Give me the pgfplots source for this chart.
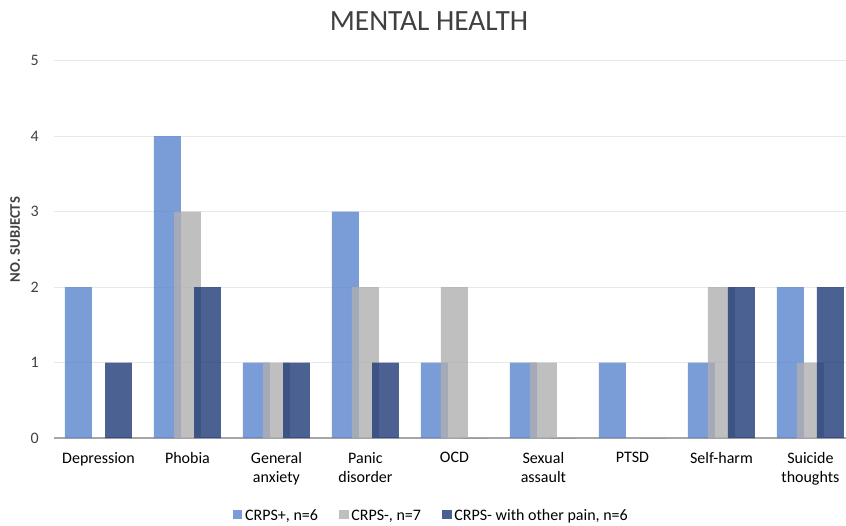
\documentclass[border=0pt]{standalone}
\usepackage{pgfplots}
\pgfplotsset{compat=1.18}
\usepackage{fontspec}
\setmainfont{Carlito}
\definecolor{cblue}{RGB}{89,133,205}
\definecolor{cgray}{RGB}{175,175,175}
\definecolor{cdark}{RGB}{29,57,117}
\definecolor{txt}{RGB}{64,64,64}
\begin{document}
\begin{tikzpicture}
\begin{axis}[
  at={(40.5pt,65.25pt)}, anchor=south west,
  scale only axis, width=594pt, height=283pt,
  xmin=-0.5, xmax=8.4, ymin=0, ymax=5,
  ytick={0,1,2,3,4,5},
  xtick={0,1,2,3,4,5,6,7,8},
  xticklabels={Depression, Phobia, {General\\anxiety}, {Panic\\disorder}, OCD, {Sexual\\assault}, PTSD, Self-harm, {Suicide\\thoughts}},
  xticklabel style={align=center, font=\fontsize{12}{14.5}\selectfont, text=black, anchor=north, yshift=-7pt},
  yticklabel style={font=\fontsize{12}{14}\selectfont, text=txt, xshift=-8pt},
  /pgf/number format/assume math mode=true,
  major tick length=0pt,
  axis x line*=bottom, axis y line*=left,
  x axis line style={draw=gray!70, line width=0.8pt},
  y axis line style={draw=none},
  ymajorgrids, grid style={draw=gray!18, line width=0.8pt},
  ylabel={\textbf{NO. SUBJECTS}},
  ylabel style={at={(axis description cs:-0.049,0.526)}, anchor=center, font=\fontsize{11}{13}\selectfont, text=txt},
  title={MENTAL HEALTH},
  title style={at={(axis description cs:0.4735,1.085)}, anchor=center, font=\fontsize{22}{26}\selectfont, text=txt},
  legend columns=3,
  legend style={at={(axis description cs:0.477,-0.207)}, anchor=center, draw=none, font=\fontsize{12}{14}\selectfont, /tikz/every even column/.append style={column sep=14pt}},
  legend image code/.code={\fill[#1] (0pt,-2.5pt) rectangle (7pt,4.5pt);},
  bar width=0.303,
]
\addplot[ybar, bar shift=-0.225, fill=cblue, draw=none, fill opacity=0.8] coordinates {(0,2) (1,4) (2,1) (3,3) (4,1) (5,1) (6,1) (7,1) (8,2)};
\addplot[ybar, bar shift=0, fill=cgray, draw=none, fill opacity=0.8] coordinates {(0,0) (1,3) (2,1) (3,2) (4,2) (5,1) (6,0) (7,2) (8,1)};
\addplot[ybar, bar shift=0.225, fill=cdark, draw=none, fill opacity=0.8] coordinates {(0,1) (1,2) (2,1) (3,1) (4,0) (5,0) (6,0) (7,2) (8,2)};
\legend{{CRPS+, n=6}, {CRPS-, n=7}, {CRPS- with other pain, n=6}}
\end{axis}
\pgfresetboundingbox
\path (0,0) rectangle (634.5pt,393.75pt);
\end{tikzpicture}
\end{document}
